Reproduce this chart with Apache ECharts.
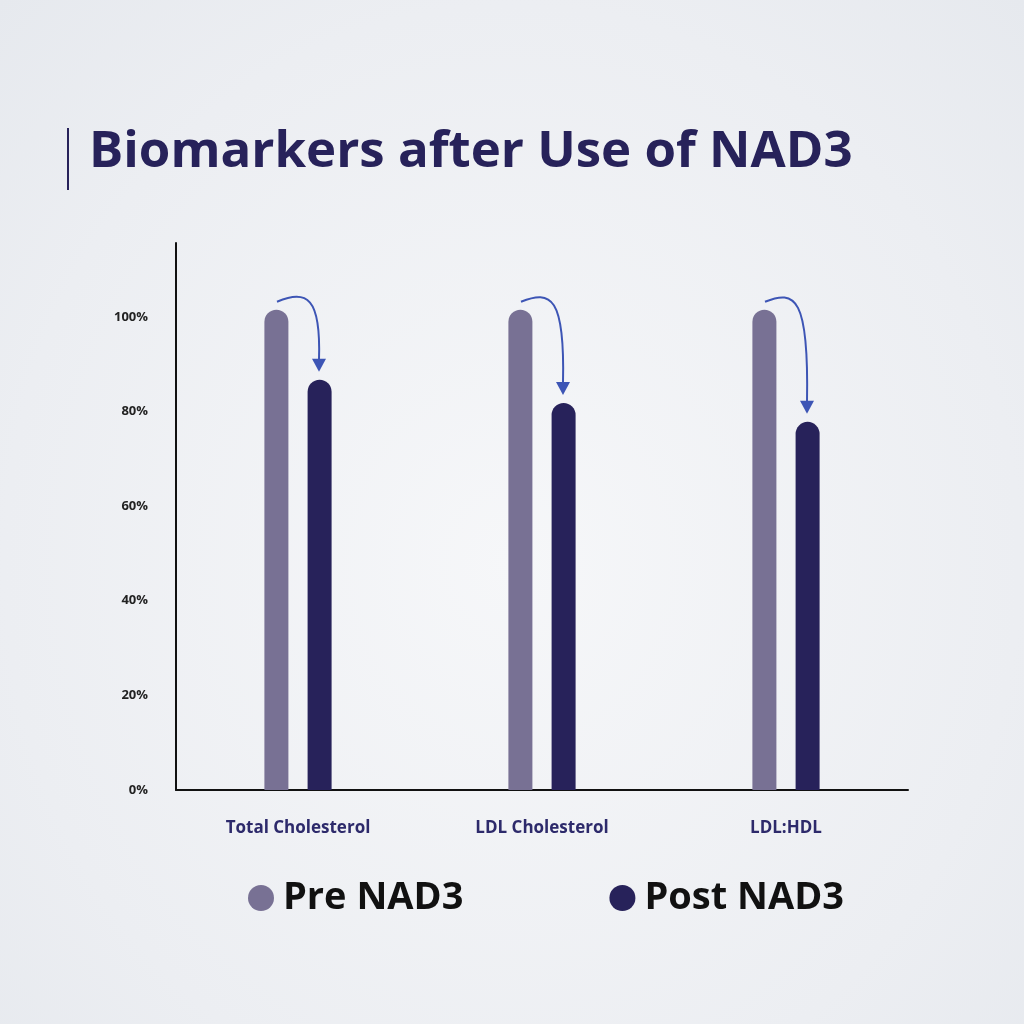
<!DOCTYPE html>
<html>
<head>
<meta charset="utf-8">
<script src="https://cdn.jsdelivr.net/npm/echarts@6/dist/echarts.min.js"></script>
<style>
  html, body { margin: 0; padding: 0; }
  body { width: 1024px; height: 1024px; background: radial-gradient(ellipse at 50% 55%, #f6f7f9 0%, #eceef2 70%, #e6e9ee 100%); }
  #chart { width: 1024px; height: 1024px; }
</style>
</head>
<body>
<div id="chart"></div>
<script>
// data
const categories = ['Total Cholesterol', 'LDL Cholesterol', 'LDL:HDL'];
const preValues = [101.5, 101.5, 101.5];
const postValues = [86.7, 81.8, 77.8];
const yTicks = [0, 20, 40, 60, 80, 100];

const chart = echarts.init(document.getElementById('chart'));

// curved arrow from top of pre bar to top of post bar
function renderArrow(params, api) {
    const cat = api.value(0);
    const pre = api.coord([cat, api.value(1)]);
    const post = api.coord([cat, api.value(2)]);
    const sx = pre[0] - 21, sy = pre[1] - 8;
    const ex = post[0] + 21, ey = post[1] - 8;
    const color = '#3d55b5';
    return {
        type: 'group',
        children: [
            {
                type: 'path',
                shape: {
                    pathData: `M${sx},${sy} C${sx + 30},${sy - 12} ${ex + 2},${sy - 5} ${ex},${ey - 12}`
                },
                style: { stroke: color, lineWidth: 2, fill: null }
            },
            {
                type: 'polygon',
                shape: { points: [[ex - 7, ey - 13], [ex + 7, ey - 13], [ex, ey]] },
                style: { fill: color }
            }
        ]
    };
}

chart.setOption({
    backgroundColor: 'transparent',
    title: {
        text: 'Biomarkers after Use of NAD3',
        left: 84,
        top: 122,
        textStyle: { fontFamily: 'Open Sans', fontWeight: 'bold', fontSize: 51, color: '#27225a' }
    },
    graphic: [{
        type: 'rect',
        shape: { x: 67, y: 128, width: 2, height: 62 },
        style: { fill: '#27225a' }
    }],
    legend: {
        data: ['Pre NAD3', 'Post NAD3'],
        left: 243,
        top: 874,
        icon: 'circle',
        itemWidth: 26,
        itemHeight: 26,
        itemGap: 146,
        textStyle: { fontFamily: 'Open Sans', fontWeight: 'bold', fontSize: 38, color: '#111', padding: [0, 0, 0, 4] }
    },
    grid: { left: 176, right: 116, top: 243, bottom: 234 },
    xAxis: {
        type: 'category',
        data: categories,
        axisLine: { lineStyle: { color: '#111', width: 2 } },
        axisTick: { show: false },
        axisLabel: { margin: 30, fontFamily: 'Open Sans', fontWeight: 'bold', fontSize: 17, color: '#2d2a6b' }
    },
    yAxis: {
        type: 'value',
        min: 0,
        max: 115.6,
        interval: 20,
        axisLine: { show: true, lineStyle: { color: '#111', width: 2 } },
        axisTick: { show: false },
        splitLine: { show: false },
        axisLabel: {
            margin: 28,
            showMaxLabel: false,
            fontFamily: 'Open Sans',
            fontWeight: 'bold',
            fontSize: 13,
            color: '#222',
            formatter: v => (yTicks.includes(v) ? v + '%' : '')
        }
    },
    series: [
        {
            name: 'Pre NAD3',
            type: 'bar',
            data: preValues,
            barWidth: 24,
            barGap: '80%',
            itemStyle: { color: '#787194', borderRadius: [12, 12, 0, 0] }
        },
        {
            name: 'Post NAD3',
            type: 'bar',
            data: postValues,
            barWidth: 24,
            itemStyle: { color: '#27225a', borderRadius: [12, 12, 0, 0] }
        },
        {
            type: 'custom',
            renderItem: renderArrow,
            data: categories.map((c, i) => [i, preValues[i], postValues[i]]),
            z: 10,
            silent: true
        }
    ]
});
</script>
</body>
</html>
